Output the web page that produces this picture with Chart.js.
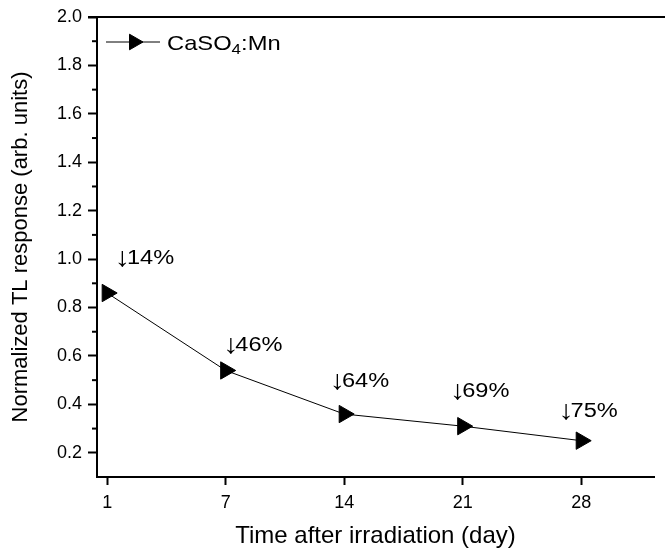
<!DOCTYPE html>
<html lang="en">
  <head>
    <meta charset="UTF-8" />
    <title>CaSO4:Mn TL fading</title>
    <style>
      body {
        margin: 0;
        padding: 0;
        background: #fff;
        overflow: hidden;
      }
      #fading-chart {
        display: block;
      }
    </style>
  </head>
  <body>
    <canvas id="fading-chart" width="665" height="553"></canvas>
  </body>
  <script src="https://cdn.jsdelivr.net/npm/chart.js@4.4.0/dist/chart.umd.min.js"></script>
  <script>
    // storage time after irradiation; first point sits at 0 on the axis but is labelled "1"
    let days = [0, 7, 14, 21, 28];
    let dayLabels = ['1', '7', '14', '21', '28'];
    let response = [0.86, 0.54, 0.36, 0.31, 0.25];

    // fading annotations and where they sit (in data units)
    let fadeLabels = ['14%', '46%', '64%', '69%', '75%'];
    let fadeLabelX = [2.2, 8.6, 14.9, 22.0, 28.4];
    let fadeLabelY = [1.01, 0.65, 0.5, 0.46, 0.375];

    let yTicks = [0.2, 0.4, 0.6, 0.8, 1.0, 1.2, 1.4, 1.6, 1.8, 2.0];
    let yMinorTicks = [0.3, 0.5, 0.7, 0.9, 1.1, 1.3, 1.5, 1.7, 1.9];

    const FONT = "'Liberation Sans', Arial, sans-serif";
    Chart.defaults.font.family = FONT;
    Chart.defaults.color = '#000';

    // the source figure has slightly wide lettering, so custom text gets a small x-stretch
    function drawRuns(ctx, runs, cx, cy, sx, align) {
      let total = 0;
      runs.forEach((r) => {
        ctx.font = r.font;
        r.w = ctx.measureText(r.text).width + (r.kern || 0);
        total += r.w;
      });
      ctx.save();
      ctx.translate(cx, cy);
      ctx.scale(sx, 1);
      let tx = align === 'center' ? -total / 2 : 0;
      runs.forEach((r) => {
        ctx.font = r.font;
        ctx.fillText(r.text, tx, r.dy || 0);
        tx += r.w;
      });
      ctx.restore();
    }

    // top frame, minor ticks, % labels and the in-plot legend
    const extrasPlugin = {
      id: 'extras',
      afterDraw(chart) {
        const { ctx, chartArea } = chart;
        const x = chart.scales.x;
        const y = chart.scales.y;
        ctx.save();
        ctx.strokeStyle = '#000';
        ctx.fillStyle = '#000';

        ctx.lineWidth = 2;
        ctx.beginPath();
        ctx.moveTo(chartArea.left - 9, chartArea.top);
        ctx.lineTo(chart.width, chartArea.top);
        ctx.stroke();

        yMinorTicks.forEach((v) => {
          const py = y.getPixelForValue(v);
          ctx.beginPath();
          ctx.moveTo(chartArea.left - 5, py);
          ctx.lineTo(chartArea.left, py);
          ctx.stroke();
        });

        ctx.textAlign = 'left';
        ctx.textBaseline = 'alphabetic';
        fadeLabels.forEach((t, i) => {
          drawRuns(
            ctx,
            [
              { text: '↓', font: '27px ' + FONT, dy: 2, kern: -3 },
              { text: t, font: '20px ' + FONT },
            ],
            x.getPixelForValue(fadeLabelX[i]),
            y.getPixelForValue(fadeLabelY[i]) + 7,
            1.18,
            'center'
          );
        });

        // legend
        const ly = chartArea.top + 25;
        const lx = chartArea.left + 9;
        ctx.lineWidth = 1;
        ctx.beginPath();
        ctx.moveTo(lx, ly);
        ctx.lineTo(lx + 54, ly);
        ctx.stroke();
        Chart.helpers.drawPoint(
          ctx,
          { pointStyle: 'triangle', rotation: 90, radius: 9, borderWidth: 1 },
          lx + 28,
          ly
        );
        drawRuns(
          ctx,
          [
            { text: 'CaSO', font: '21px ' + FONT },
            { text: '4', font: '15px ' + FONT, dy: 4 },
            { text: ':Mn', font: '21px ' + FONT },
          ],
          lx + 61,
          ly + 8,
          1.13,
          'left'
        );
        ctx.restore();
      },
    };

    let chart = new Chart(document.getElementById('fading-chart'), {
      type: 'line',
      data: {
        datasets: [
          {
            label: 'CaSO4:Mn',
            data: days.map((d, i) => ({ x: d, y: response[i] })),
            borderColor: '#000',
            borderWidth: 1,
            tension: 0,
            pointStyle: 'triangle',
            rotation: 90,
            pointRadius: 10,
            pointBackgroundColor: '#000',
            pointBorderColor: '#000',
            pointBorderWidth: 1,
            clip: false,
          },
        ],
      },
      options: {
        responsive: false,
        animation: false,
        layout: { padding: { top: 17, right: 0, left: 0, bottom: 0 } },
        plugins: {
          legend: { display: false },
          tooltip: { enabled: false },
        },
        scales: {
          x: {
            type: 'linear',
            min: -0.6,
            max: 32.3,
            afterBuildTicks: (s) => {
              s.ticks = days.map((v) => ({ value: v }));
            },
            afterFit: (s) => {
              s.height = 76;
            },
            ticks: {
              callback: (v) => dayLabels[days.indexOf(v)],
              font: { size: 18 },
              padding: 7,
              maxRotation: 0,
              autoSkip: false,
            },
            grid: { drawOnChartArea: false, tickLength: 8, tickWidth: 2, tickColor: '#000' },
            border: { color: '#000', width: 2 },
            title: {
              display: true,
              text: 'Time after irradiation (day)',
              font: { size: 24 },
              padding: { top: 0, bottom: 2 },
            },
          },
          y: {
            min: 0.1,
            max: 2.0,
            afterBuildTicks: (s) => {
              s.ticks = yTicks.map((v) => ({ value: v }));
            },
            afterFit: (s) => {
              s.width = 97;
            },
            ticks: {
              callback: (v) => v.toFixed(1),
              font: { size: 18 },
              padding: 6,
            },
            grid: { drawOnChartArea: false, tickLength: 9, tickWidth: 2, tickColor: '#000' },
            border: { color: '#000', width: 2 },
            title: {
              display: true,
              text: 'Normalized TL response (arb. units)',
              font: { size: 22 },
              padding: { top: 8, bottom: 0 },
            },
          },
        },
      },
      plugins: [extrasPlugin],
    });
  </script>
</html>
